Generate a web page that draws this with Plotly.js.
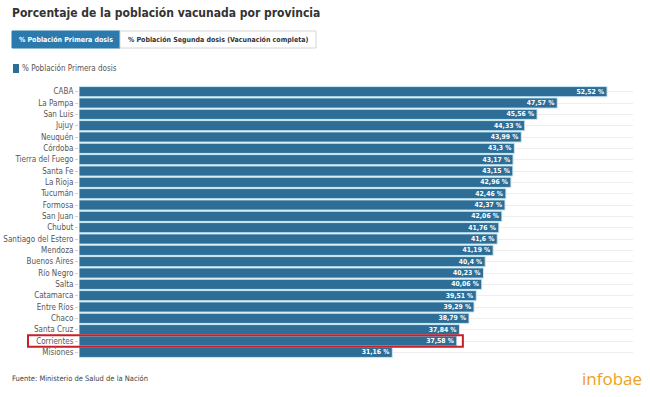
<!DOCTYPE html>
<html>
<head>
<meta charset="utf-8">
<script src="https://cdn.plot.ly/plotly-3.0.1.min.js"></script>
<style>body{margin:0;background:#fff}#chart{width:650px;height:397px}</style>
</head>
<body>
<div id="chart"></div>
<script>
var provincias = ["CABA","La Pampa","San Luis","Jujuy","Neuquén","Córdoba","Tierra del Fuego","Santa Fe","La Rioja","Tucumán","Formosa","San Juan","Chubut","Santiago del Estero","Mendoza","Buenos Aires","Río Negro","Salta","Catamarca","Entre Ríos","Chaco","Santa Cruz","Corrientes","Misiones"];
var primeraDosis = [52.52,47.57,45.56,44.33,43.99,43.3,43.17,43.15,42.96,42.46,42.37,42.06,41.76,41.6,41.19,40.4,40.23,40.06,39.51,39.29,38.79,37.84,37.58,31.16];
var etiquetas = primeraDosis.map(function(v){return String(v).replace('.', ',') + ' %';});
var resaltada = "Corrientes";

var COND = '"Liberation Sans Narrow","DejaVu Sans Condensed","Roboto",sans-serif';
var W = 650, H = 397, L = 79, R = 17, T = 86, B = 39;
var PW = W - L - R, PH = H - T - B;
var XMAX = 55.1;
function px(x){return (x - L) / PW;}
function py(y){return (H - B - y) / PH;}

var hi = provincias.indexOf(resaltada);

var trace = {
  type: 'bar', orientation: 'h',
  y: provincias, x: primeraDosis, text: etiquetas,
  name: '% Población Primera dosis',
  marker: {color: '#2e6e96', line: {color: '#c9e8f3', width: 1}},
  textposition: 'inside', insidetextanchor: 'end',
  textfont: {family: COND, size: 6.8, color: '#ffffff', weight: 'bold'},
  constraintext: 'none', cliponaxis: false, hoverinfo: 'none'
};

var layout = {
  width: W, height: H,
  margin: {l: L, r: R, t: T, b: B},
  paper_bgcolor: '#fff', plot_bgcolor: '#fff',
  showlegend: false, bargap: 0.1,
  font: {family: COND, color: '#555'},
  title: {text: 'Porcentaje de la población vacunada por provincia', x: 12/W, xanchor: 'left', xref: 'container', y: 1 - 13/H, yanchor: 'middle', yref: 'container', font: {family: COND, size: 12, color: '#333', weight: 'bold'}},
  xaxis: {range: [0, XMAX], showgrid: false, zeroline: false, showticklabels: false, ticks: '', fixedrange: true},
  yaxis: {autorange: 'reversed', type: 'category', showgrid: true, gridcolor: '#eeeeee', gridwidth: 1, ticks: 'outside', ticklen: 3, tickcolor: '#d0d0d0', tickfont: {family: COND, size: 8, color: '#555'}, showline: false, zeroline: false, fixedrange: true},
  shapes: [
    {type: 'rect', xref: 'paper', yref: 'paper', x0: px(12), x1: px(120), y0: py(48), y1: py(31), fillcolor: '#2a7aae', line: {color: '#2a7aae', width: 1}, layer: 'above'},
    {type: 'rect', xref: 'paper', yref: 'paper', x0: px(120), x1: px(316), y0: py(48), y1: py(31), fillcolor: '#fff', line: {color: '#d5d5d5', width: 1}, layer: 'above'},
    {type: 'rect', xref: 'paper', yref: 'paper', x0: px(13), x1: px(19), y0: py(73), y1: py(64), fillcolor: '#2e6e96', line: {width: 0}},
    {type: 'rect', xref: 'x', yref: 'y', x0: primeraDosis[hi] + 0.05, x1: primeraDosis[hi] + 0.4, y0: hi - 0.35, y1: hi + 0.35, fillcolor: '#ffffff', line: {width: 0}, layer: 'above'},
    {type: 'rect', xref: 'paper', yref: 'y', x0: px(28), x1: (primeraDosis[hi] + 0.6) / XMAX, y0: hi - 0.5, y1: hi + 0.5, fillcolor: 'rgba(0,0,0,0)', line: {color: '#c8202a', width: 2}, layer: 'above'}
  ],
  annotations: [
    {text: '% Población Primera dosis', xref: 'paper', yref: 'paper', x: px(66), y: py(39.5), xanchor: 'center', yanchor: 'middle', showarrow: false, font: {family: COND, size: 7, color: '#fff', weight: 'bold'}},
    {text: '% Población Segunda dosis (Vacunación completa)', xref: 'paper', yref: 'paper', x: px(218), y: py(39.5), xanchor: 'center', yanchor: 'middle', showarrow: false, font: {family: COND, size: 7, color: '#333', weight: 'bold'}},
    {text: '% Población Primera dosis', xref: 'paper', yref: 'paper', x: px(20), y: py(68.5), xanchor: 'left', yanchor: 'middle', showarrow: false, font: {family: COND, size: 8, color: '#555'}},
    {text: 'Fuente: Ministerio de Salud de la Nación', xref: 'paper', yref: 'paper', x: px(10), y: py(378), xanchor: 'left', yanchor: 'middle', showarrow: false, font: {family: COND, size: 7.5, color: '#444'}},
    {text: 'infobae', xref: 'paper', yref: 'paper', x: px(644), y: py(378), xanchor: 'right', yanchor: 'middle', showarrow: false, font: {family: '"Open Sans","Liberation Sans",sans-serif', size: 17, color: '#f0a020'}}
  ]
};

Plotly.newPlot('chart', [trace], layout, {displayModeBar: false, staticPlot: true});
</script>
</body>
</html>
